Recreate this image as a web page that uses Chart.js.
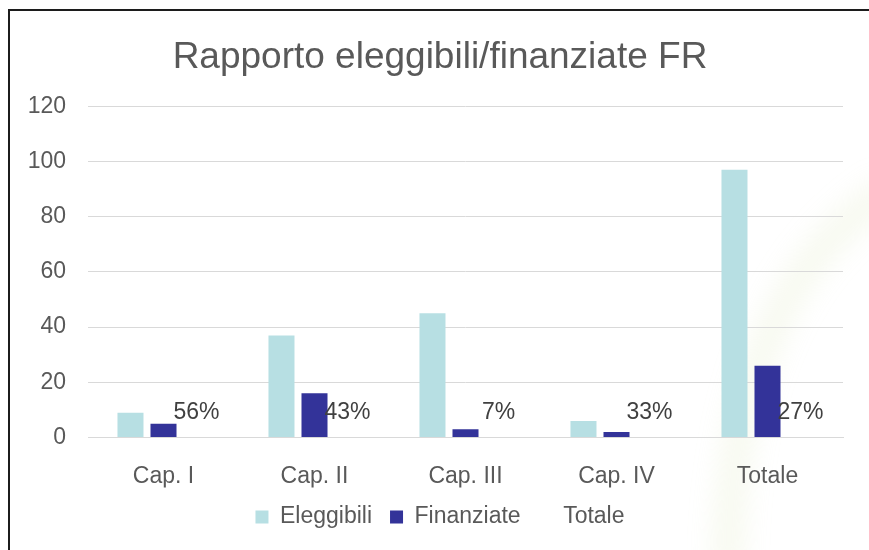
<!DOCTYPE html>
<html>
<head>
<meta charset="utf-8">
<script src="https://cdn.jsdelivr.net/npm/chart.js@4"></script>
<style>
    html, body { margin: 0; padding: 0; background: #fff; overflow: hidden; }
    #wrap { position: relative; width: 869px; height: 550px; }
    #frame { position: absolute; left: 8px; top: 9px; width: 900px; height: 600px; border: 2px solid #1c1c1c; z-index: 2; pointer-events: none; }
    canvas { position: absolute; left: 0; top: 0; z-index: 1; }
</style>
</head>
<body>
<div id="wrap">
    <div id="frame"></div>
    <canvas id="ratioChart" width="869" height="550"></canvas>
</div>
<script>
const categories = ['Cap. I', 'Cap. II', 'Cap. III', 'Cap. IV', 'Totale'];
const eleggibili = [9, 37, 45, 6, 97];
const finanziate = [5, 16, 3, 2, 26];
// quota finanziate / eleggibili, shown only as labels
const totale = [0.56, 0.43, 0.07, 0.33, 0.27];
const yTicks = [0, 20, 40, 60, 80, 100, 120];

const TEXT = '#595959';
const FONT = "'Liberation Sans', Arial, sans-serif";

// faint green swoosh behind the plot
const watermark = {
    id: 'watermark',
    beforeDraw(chart) {
        const ctx = chart.ctx;
        ctx.save();
        ctx.filter = 'blur(12px)';
        ctx.strokeStyle = 'rgba(210, 222, 170, 0.16)';
        ctx.lineWidth = 34;
        ctx.beginPath();
        ctx.moveTo(728, 570);
        ctx.quadraticCurveTo(730, 290, 890, 190);
        ctx.stroke();
        ctx.restore();
    }
};

const percentLabels = {
    id: 'percentLabels',
    afterDatasetsDraw(chart) {
        const ctx = chart.ctx;
        const meta = chart.getDatasetMeta(2);
        ctx.save();
        ctx.font = '23px ' + FONT;
        ctx.fillStyle = '#404040';
        ctx.textAlign = 'center';
        ctx.textBaseline = 'alphabetic';
        meta.data.forEach((bar, i) => {
            ctx.fillText(Math.round(totale[i] * 100) + '%', bar.x, bar.base - 18);
        });
        ctx.restore();
    }
};

new Chart(document.getElementById('ratioChart').getContext('2d'), {
    type: 'bar',
    data: {
        labels: categories,
        datasets: [{
            label: 'Eleggibili',
            data: eleggibili,
            backgroundColor: '#B7DFE3',
            borderWidth: 0
        }, {
            label: 'Finanziate',
            data: finanziate,
            backgroundColor: '#333399',
            borderWidth: 0
        }, {
            label: 'Totale',
            data: totale,
            backgroundColor: 'rgba(0,0,0,0)',
            borderWidth: 0
        }]
    },
    options: {
        responsive: false,
        animation: false,
        categoryPercentage: 0.656,
        barPercentage: 0.788,
        layout: { padding: { left: 11, right: 0, top: 0, bottom: 11.5 } },
        scales: {
            x: {
                grid: { display: false, drawTicks: false },
                border: { display: true, color: '#D9D9D9' },
                ticks: { color: TEXT, font: { family: FONT, size: 23 }, padding: 25 },
                afterFit: s => { s.height = 50; }
            },
            y: {
                min: 0,
                max: 120,
                afterBuildTicks: s => { s.ticks = yTicks.map(v => ({ value: v })); },
                grid: { color: '#D9D9D9', drawTicks: false },
                border: { display: false },
                ticks: { color: TEXT, font: { family: FONT, size: 23 }, padding: 22 },
                afterFit: s => { s.width = 77; }
            },
            yr: {
                position: 'right',
                grid: { display: false, drawTicks: false },
                border: { display: false },
                ticks: { display: false },
                afterFit: s => { s.width = 26; }
            }
        },
        plugins: {
            title: {
                display: true,
                text: 'Rapporto eleggibili/finanziate FR',
                color: TEXT,
                font: { family: FONT, size: 37, weight: 'normal' },
                padding: { top: 36, bottom: 26 }
            },
            legend: {
                position: 'bottom',
                labels: {
                    color: TEXT,
                    font: { family: FONT, size: 23 },
                    boxWidth: 13,
                    boxHeight: 13,
                    padding: 18
                }
            },
            tooltip: { enabled: false }
        }
    },
    plugins: [watermark, percentLabels]
});
</script>
</body>
</html>
